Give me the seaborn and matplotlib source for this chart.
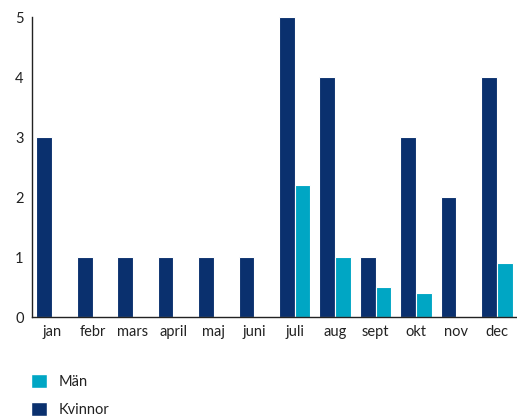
import pandas as pd
import seaborn as sns
import matplotlib.pyplot as plt
from matplotlib.patches import Patch

months = ["jan", "febr", "mars", "april", "maj", "juni",
          "juli", "aug", "sept", "okt", "nov", "dec"]
kvinnor = [3, 1, 1, 1, 1, 1, 5, 4, 1, 3, 2, 4]
man = [0, 0, 0, 0, 0, 0, 2.2, 1, 0.5, 0.4, 0, 0.9]

navy = "#0a306e"
teal = "#00a6c4"

df = pd.DataFrame({
    "månad": months * 2,
    "antal": kvinnor + man,
    "kön": ["Kvinnor"] * 12 + ["Män"] * 12,
})

sns.set_style("white")
plt.rcParams["font.family"] = ["Lato", "DejaVu Sans"]

fig = plt.figure(figsize=(5.17, 4.19), dpi=100)
ax = fig.add_axes([32 / 517, 102 / 419, 485 / 517, 300 / 419])

sns.barplot(data=df, x="månad", y="antal", hue="kön",
            palette={"Kvinnor": navy, "Män": teal}, saturation=1,
            width=0.78, edgecolor="white", linewidth=0.8,
            legend=False, ax=ax)

ax.set_xlim(-0.5, 11.5)
ax.set_ylim(0, 5)
ax.set_xlabel("")
ax.set_ylabel("")
ax.set_yticks(range(6))

sns.despine(ax=ax)
for side in ["left", "bottom"]:
    ax.spines[side].set_color("#222222")
    ax.spines[side].set_linewidth(1)

ax.tick_params(axis="y", direction="in", length=8, width=1, color="#222222",
               labelsize=10.5, labelcolor="#222222", pad=6)
ax.tick_params(axis="x", length=0, labelsize=10.5, labelcolor="#222222", pad=6)
ax.set_xticks([i + 0.5 for i in range(11)], minor=True)
ax.tick_params(axis="x", which="minor", direction="in", length=5, width=1,
               color="#555555")

handles = [Patch(facecolor=teal, label="Män"),
           Patch(facecolor=navy, label="Kvinnor")]
fig.legend(handles=handles, loc="upper left",
           bbox_to_anchor=(31 / 517, 1 - 374 / 419),
           frameon=False, borderpad=0, borderaxespad=0,
           handlelength=1.1, handleheight=1.1, handletextpad=0.8,
           labelspacing=0.9, fontsize=10.5, labelcolor="#222222")

fig.savefig("out.png", dpi=100)
